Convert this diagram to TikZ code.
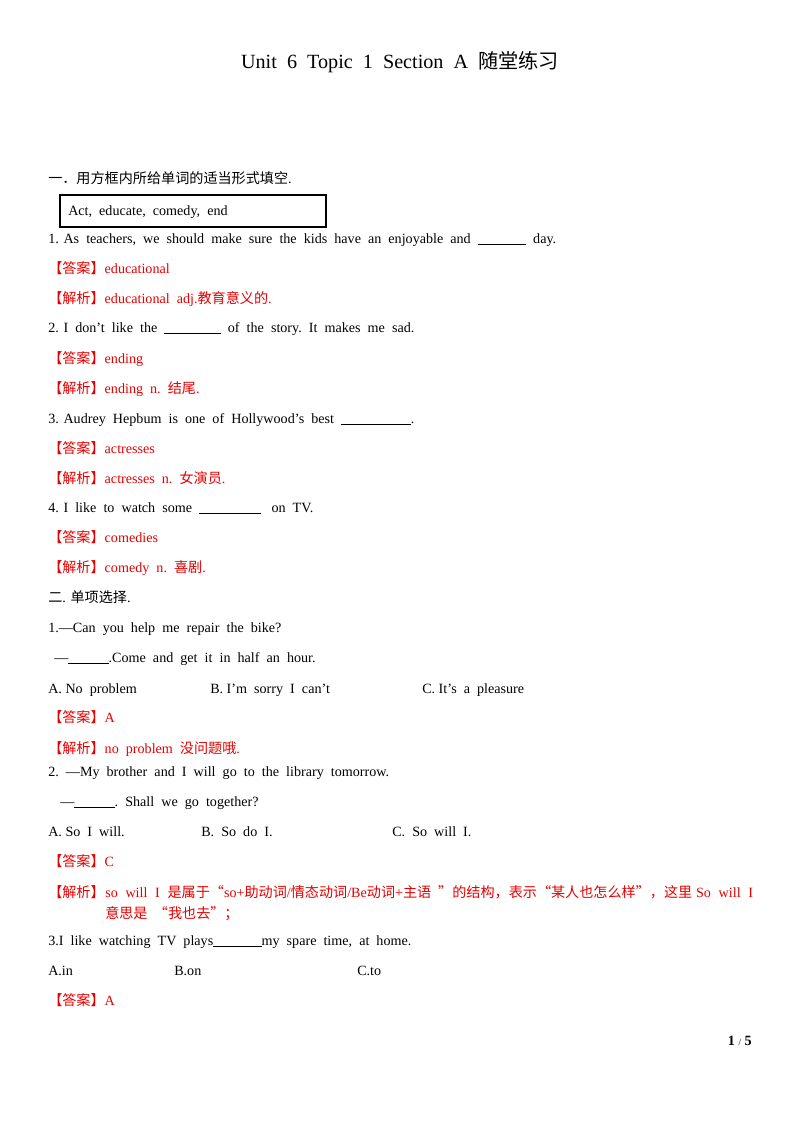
\documentclass[tikz,border=0pt]{standalone}
\usepackage{fontspec}
\setmainfont{Liberation Serif}
\newfontfamily\cjk{Noto Sans CJK SC}
\definecolor{ans}{RGB}{230,0,0}
\newcommand{\blank}[1]{\rule[-1pt]{#1pt}{0.4pt}}
\begin{document}
\begin{tikzpicture}[x=0.744pt,y=-0.744pt,
  every node/.style={inner sep=0pt,font=\fontsize{10.5}{16}\selectfont},
  ln/.style={anchor=base west},
  red/.style={ln,text=ans}]
\useasboundingbox (0,0) rectangle (800,1132);
\node[anchor=base,font=\fontsize{15}{18}\selectfont] (title) at (400,68) {Unit\ \ 6\ \ Topic\ \ 1\ \ Section\ \ A\ \ {\cjk 随堂练习}};
\node[ln] (h1) at (48,183) {{\cjk 一．用方框内所给单词的适当形式填空}.};
\draw[line width=0.8pt] (60,195) rectangle (326,227);
\node[ln] (box) at (68,215) {Act,\ \ educate,\ \ comedy,\ \ end};
\node[ln] (q1) at (48,243) {1. As\ \ teachers,\ \ we\ \ should\ \ make\ \ sure\ \ the\ \ kids\ \ have\ \ an\ \ enjoyable\ \ and\ \ \blank{36}\ \ day.};
\node[red] (a1) at (48,273) {{\cjk 【答案】}educational};
\node[red] (j1) at (48,303) {{\cjk 【解析】}educational\ \ adj.{\cjk 教育意义的}.};
\node[ln] (q2) at (48,332) {2. I\ \ don’t\ \ like\ \ the\ \ \blank{42}\ \ of\ \ the\ \ story.\ \ It\ \ makes\ \ me\ \ sad.};
\node[red] (a2) at (48,363) {{\cjk 【答案】}ending};
\node[red] (j2) at (48,393) {{\cjk 【解析】}ending\ \ n.\ \ {\cjk 结尾}.};
\node[ln] (q3) at (48,423) {3. Audrey\ \ Hepbum\ \ is\ \ one\ \ of\ \ Hollywood’s\ \ best\ \ \blank{52}.};
\node[red] (a3) at (48,453) {{\cjk 【答案】}actresses};
\node[red] (j3) at (48,483) {{\cjk 【解析】}actresses\ \ n.\ \ {\cjk 女演员}.};
\node[ln] (q4) at (48,512) {4. I\ \ like\ \ to\ \ watch\ \ some\ \ \blank{46}\ \ \ on\ \ TV.};
\node[red] (a4) at (48,542) {{\cjk 【答案】}comedies};
\node[red] (j4) at (48,572) {{\cjk 【解析】}comedy\ \ n.\ \ {\cjk 喜剧}.};
\node[ln] (h2) at (48,602) {{\cjk 二}. {\cjk 单项选择}.};
\node[ln] (m1) at (48,632) {1.---Can\ \ you\ \ help\ \ me\ \ repair\ \ the\ \ bike?};
\node[ln] (m1b) at (54,662) {---\blank{30}.Come\ \ and\ \ get\ \ it\ \ in\ \ half\ \ an\ \ hour.};
\node[ln] (m1A) at (48,693) {A. No\ \ problem};
\node[ln] (m1B) at (210,693) {B. I’m\ \ sorry\ \ I\ \ can’t};
\node[ln] (m1C) at (422,693) {C. It’s\ \ a\ \ pleasure};
\node[red] (ma1) at (48,722) {{\cjk 【答案】}A};
\node[red] (mj1) at (48,753) {{\cjk 【解析】}no\ \ problem\ \ {\cjk 没问题哦}.};
\node[ln] (m2) at (48,776) {2.\ \ ---My\ \ brother\ \ and\ \ I\ \ will\ \ go\ \ to\ \ the\ \ library\ \ tomorrow.};
\node[ln] (m2b) at (60,806) {---\blank{30}.\ \ Shall\ \ we\ \ go\ \ together?};
\node[ln] (m2A) at (48,836) {A. So\ \ I\ \ will.};
\node[ln] (m2B) at (201,836) {B.\ \ So\ \ do\ \ I.};
\node[ln] (m2C) at (392,836) {C.\ \ So\ \ will\ \ I.};
\node[red] (ma2) at (48,866) {{\cjk 【答案】}C};
\node[red] (mj2) at (48,897) {{\cjk 【解析】}};
\node[red,text width=482pt,align=justify,anchor=base west] (mj2t) at (105,897) {so\ \ will\ \ I\ \ {\cjk 是属于“}so+{\cjk 助动词}/{\cjk 情态动词}/Be{\cjk 动词}+{\cjk 主语\ \ ”的结构，表示“某人也怎么样”，这里} So\ \ will\ \ I {\cjk 意思是\ \ “我也去”；}};
\node[ln] (m3) at (48,945) {3.I\ \ like\ \ watching\ \ TV\ \ plays\blank{36}my\ \ spare\ \ time,\ \ at\ \ home.};
\node[ln] (m3A) at (48,975) {A.in};
\node[ln] (m3B) at (174,975) {B.on};
\node[ln] (m3C) at (357,975) {C.to};
\node[red] (ma3) at (48,1005) {{\cjk 【答案】}A};
\node[anchor=base east] (pg) at (752,1045) {\textbf{1} {\fontsize{7}{8}\selectfont /} \textbf{5}};
\end{tikzpicture}
\end{document}
